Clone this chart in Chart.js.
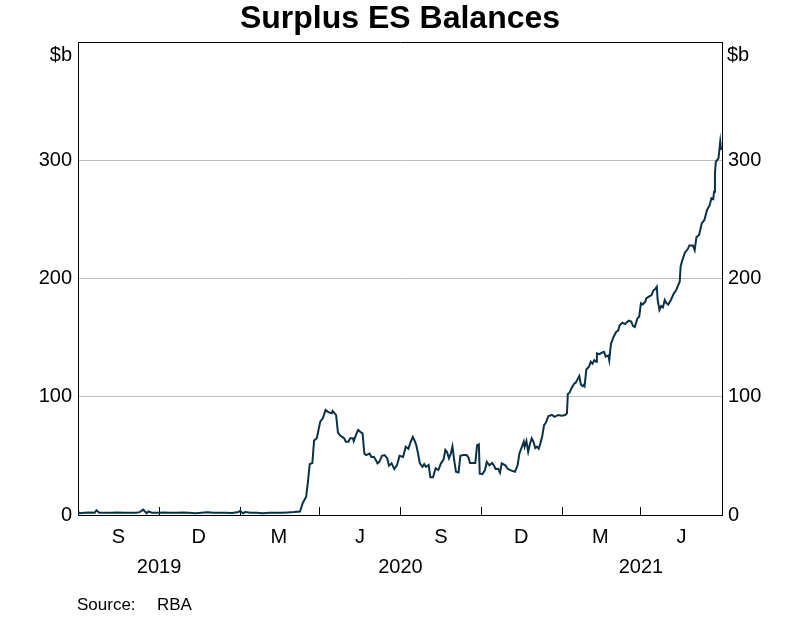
<!DOCTYPE html>
<html><head><meta charset="utf-8">
<script src="https://cdn.jsdelivr.net/npm/chart.js@4"></script>
<style>html,body{margin:0;padding:0;background:#fff}#wrap{width:800px;height:619px;position:relative}</style>
</head><body><div id="wrap"><canvas id="c"></canvas></div>
<script>
const chartTitle = 'Surplus ES Balances';
const unitLabel = '$b';
const sourceLabel = 'Source:';
const sourceName = 'RBA';
const startDate = '2019-08-01';
const endDate = '2021-08-01';

const dates = [
'2019-08-01','2019-08-03','2019-08-08','2019-08-15','2019-08-20','2019-08-22','2019-08-25','2019-09-01','2019-09-08','2019-09-15',
'2019-09-22','2019-09-29','2019-10-06','2019-10-10','2019-10-14','2019-10-16','2019-10-18','2019-10-20','2019-10-24','2019-10-31',
'2019-11-07','2019-11-14','2019-11-21','2019-11-28','2019-12-05','2019-12-12','2019-12-19','2019-12-26','2020-01-02','2020-01-09',
'2020-01-16','2020-01-23','2020-01-30','2020-02-01','2020-02-04','2020-02-07','2020-02-13','2020-02-20','2020-02-27','2020-03-05',
'2020-03-12','2020-03-19','2020-03-26','2020-04-02','2020-04-09','2020-04-12','2020-04-16','2020-04-18','2020-04-20','2020-04-23',
'2020-04-25','2020-04-28','2020-05-02','2020-05-05','2020-05-08','2020-05-11','2020-05-15','2020-05-16','2020-05-20','2020-05-22',
'2020-05-24','2020-05-27','2020-05-29','2020-05-31','2020-06-03','2020-06-05','2020-06-08','2020-06-09','2020-06-12','2020-06-14',
'2020-06-17','2020-06-19','2020-06-21','2020-06-23','2020-06-27','2020-06-29','2020-07-02','2020-07-04','2020-07-06','2020-07-08',
'2020-07-11','2020-07-14','2020-07-17','2020-07-19','2020-07-22','2020-07-25','2020-07-28','2020-07-31','2020-08-04','2020-08-07',
'2020-08-10','2020-08-12','2020-08-15','2020-08-17','2020-08-19','2020-08-21','2020-08-23','2020-08-26','2020-08-28','2020-08-30',
'2020-09-02','2020-09-04','2020-09-07','2020-09-10','2020-09-13','2020-09-16','2020-09-19','2020-09-21','2020-09-23','2020-09-25',
'2020-09-27','2020-09-29','2020-10-01','2020-10-03','2020-10-06','2020-10-08','2020-10-11','2020-10-15','2020-10-17','2020-10-19',
'2020-10-22','2020-10-25','2020-10-27','2020-10-29','2020-10-30','2020-11-02','2020-11-05','2020-11-07','2020-11-10','2020-11-13',
'2020-11-15','2020-11-17','2020-11-20','2020-11-22','2020-11-24','2020-11-28','2020-12-01','2020-12-05','2020-12-09','2020-12-12',
'2020-12-14','2020-12-17','2020-12-19','2020-12-20','2020-12-22','2020-12-24','2020-12-26','2020-12-28','2020-12-30','2021-01-01',
'2021-01-03','2021-01-05','2021-01-07','2021-01-09','2021-01-11','2021-01-13','2021-01-16','2021-01-20','2021-01-23','2021-01-27',
'2021-01-31','2021-02-04','2021-02-06','2021-02-07','2021-02-09','2021-02-11','2021-02-14','2021-02-16','2021-02-18','2021-02-20',
'2021-02-22','2021-02-24','2021-02-25','2021-02-26','2021-02-28','2021-03-03','2021-03-05','2021-03-07','2021-03-09','2021-03-11',
'2021-03-12','2021-03-15','2021-03-17','2021-03-20','2021-03-22','2021-03-25','2021-03-26','2021-03-28','2021-03-29','2021-03-31',
'2021-04-03','2021-04-05','2021-04-07','2021-04-10','2021-04-13','2021-04-17','2021-04-20','2021-04-22','2021-04-24','2021-04-27',
'2021-04-29','2021-05-01','2021-05-03','2021-05-06','2021-05-07','2021-05-10','2021-05-13','2021-05-15','2021-05-17','2021-05-19',
'2021-05-20','2021-05-22','2021-05-24','2021-05-26','2021-05-28','2021-05-30','2021-06-01','2021-06-04','2021-06-07','2021-06-10',
'2021-06-12','2021-06-14','2021-06-15','2021-06-17','2021-06-20','2021-06-23','2021-06-25','2021-06-29','2021-07-01','2021-07-03',
'2021-07-06','2021-07-09','2021-07-12','2021-07-15','2021-07-18','2021-07-20','2021-07-22','2021-07-23','2021-07-24','2021-07-25',
'2021-07-28','2021-07-30','2021-07-31'
];
const balances = [
3,1.5,2,2.2,2,4,2,2,1.8,2.2,
2,1.8,2,2.4,4.5,3,1.5,3,2,1.8,
2.2,2,1.8,2.2,2,1.5,2,2.3,2,1.8,
2,1.6,2.5,3.5,1.5,2.5,2,1.8,1.5,2,
1.8,2,2.2,2.5,3,10,15.5,28,43,44,
63,65,79,82,88.8,87,86,88,84.5,70,
67.6,66,65,62,62,65,65,62.5,68.6,71.9,
70,69,52,50.7,52,49,49,46.5,43.7,45,
50,50.7,48,41.7,43.7,38.9,42,50,49,57.8,
56,60.6,66,63,59,52,43.7,40.8,43,40.8,
42.3,31.9,31.9,39.5,38,43.7,47,55,53,48,
51.5,58,46.5,36.6,36,50,50.7,50.7,49,44,
44,44,59,59.7,35,34.6,38,45,42,44,
42,38.9,39,35.8,43.7,42,38.9,37.5,36.6,42,
52,57.8,62,57.8,62.6,53.5,60,64.8,62,56.6,
57.8,56,61,66.8,76,78,83.7,84.6,83,84.6,
84,84.6,86,102.3,103.4,107,110.8,112,114.7,117.5,
110,109,110,109,123,125.4,129.6,128,131,129.6,
136.7,136,137,138,133.9,135,131,145,146.6,150.8,
155,155.8,160.7,162.6,161.5,164.3,163.5,159.8,159,166.3,
167.7,179,178,180.4,183.2,184.6,186,189.7,190.8,193,
181.8,173.4,176.7,175.6,181.8,179,178,181.8,186.9,190.3,
193.7,197.3,210,215.6,222,224.7,228,228,224,235,
236.8,246.6,249.5,258,262,267.8,267,273.4,289,298.8,
301.7,315.7,308.7
];

const yTicks = [0, 100, 200, 300, 400];
const quarterBoundaries = ['2019-11-01','2020-02-01','2020-05-01','2020-08-01','2020-11-01','2021-02-01','2021-05-01'];
const monthLabelDates = ['2019-09-16','2019-12-16','2020-03-16','2020-06-16','2020-09-16','2020-12-16','2021-03-16','2021-06-16'];
const monthLabels = ['S','D','M','J','S','D','M','J'];
const yearLabelDates = ['2019-11-01','2020-08-01','2021-05-01'];
const yearLabels = ['2019','2020','2021'];

const FAMILY = '"Liberation Sans", Arial, Helvetica, sans-serif';
Chart.defaults.font.family = FAMILY;
Chart.defaults.color = '#000';

function dayOf(s) {
  const [y, m, d] = s.split('-').map(Number);
  const [y0, m0, d0] = startDate.split('-').map(Number);
  return Math.round((Date.UTC(y, m - 1, d) - Date.UTC(y0, m0 - 1, d0)) / 86400000);
}

const points = dates.map((d, i) => ({ x: dayOf(d), y: balances[i] }));
const boundaryDays = quarterBoundaries.map(dayOf);
const labelDays = monthLabelDates.map(dayOf);
const xTickVals = boundaryDays.concat(labelDays).sort((a, b) => a - b);

const deco = {
  id: 'deco',
  afterDraw(chart) {
    const { ctx, chartArea: a, scales } = chart;
    ctx.save();
    // top border
    ctx.strokeStyle = '#000';
    ctx.lineWidth = 1;
    ctx.beginPath();
    const ty = Math.round(a.top) + 0.5;
    ctx.moveTo(Math.round(a.left), ty);
    ctx.lineTo(Math.round(a.right) + 1, ty);
    ctx.stroke();
    // title
    ctx.fillStyle = '#000';
    ctx.font = 'bold 32px ' + FAMILY;
    ctx.textAlign = 'center';
    ctx.textBaseline = 'middle';
    ctx.fillText(chartTitle, chart.width / 2, 19);
    // units
    ctx.font = '20px ' + FAMILY;
    ctx.textAlign = 'right';
    ctx.fillText(unitLabel, a.left - 6, 55);
    ctx.textAlign = 'left';
    ctx.fillText(unitLabel, a.right + 5, 55);
    // years
    ctx.textAlign = 'center';
    yearLabelDates.forEach((d, i) => {
      ctx.fillText(yearLabels[i], scales.x.getPixelForValue(dayOf(d)), 567);
    });
    // source
    ctx.font = '17px ' + FAMILY;
    ctx.textAlign = 'left';
    ctx.fillText(sourceLabel, 77, 605);
    ctx.fillText(sourceName, 157, 605);
    ctx.restore();
  }
};

const yCommon = {
  type: 'linear', min: 0, max: 400,
  afterBuildTicks(s) { s.ticks = yTicks.map(v => ({ value: v })); },
  afterFit(s) { s.width = 78; },
  border: { display: true, color: '#000', width: 1 },
  ticks: { padding: 6, color: '#000', font: { size: 20 }, callback: v => (v === 400 ? '' : String(v)) }
};

new Chart(document.getElementById('c'), {
  type: 'line',
  data: {
    datasets: [{
      data: points,
      borderColor: '#0b3147',
      borderWidth: 2,
      pointRadius: 0,
      tension: 0,
      fill: false
    }]
  },
  options: {
    responsive: true,
    maintainAspectRatio: false,
    animation: false,
    layout: { padding: { top: 42, left: 0, right: 0, bottom: 0 } },
    plugins: { legend: { display: false }, tooltip: { enabled: false }, title: { display: false } },
    scales: {
      x: {
        type: 'linear',
        min: dayOf(startDate),
        max: dayOf(endDate),
        afterBuildTicks(s) { s.ticks = xTickVals.map(v => ({ value: v })); },
        afterFit(s) { s.height = 104; },
        grid: {
          drawOnChartArea: false,
          drawTicks: true,
          tickLength: -8,
          lineWidth: 1,
          color: c => (c.tick && boundaryDays.includes(c.tick.value)) ? '#000' : 'rgba(0,0,0,0)'
        },
        border: { display: true, color: '#000', width: 1 },
        ticks: {
          autoSkip: false, maxRotation: 0, minRotation: 0, padding: 18, color: '#000',
          font: { size: 20 },
          callback(v) { const i = labelDays.indexOf(v); return i >= 0 ? monthLabels[i] : ''; }
        }
      },
      y: Object.assign({}, yCommon, {
        position: 'left',
        grid: {
          drawTicks: false, lineWidth: 1,
          color: c => (c.tick && (c.tick.value === 0 || c.tick.value === 400)) ? 'rgba(0,0,0,0)' : '#bcbcbc'
        }
      }),
      y2: Object.assign({}, yCommon, {
        position: 'right',
        grid: { display: false, drawTicks: false }
      })
    }
  },
  plugins: [deco]
});
</script>
</body></html>
